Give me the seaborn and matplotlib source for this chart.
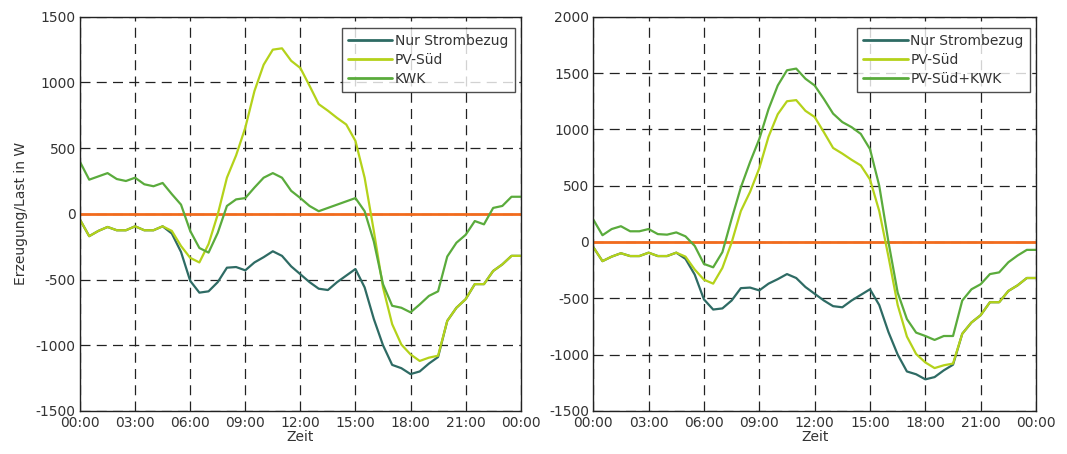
"""
Tageslastgang: Erzeugung/Last – Nur Strombezug vs. PV-Süd vs. KWK
"""

import numpy as np
import pandas as pd
import matplotlib
matplotlib.use("Agg")
import matplotlib.pyplot as plt
import seaborn as sns


# ---------------------------
# data (half-hour grid)
# ---------------------------
hours = [0.0, 0.5, 1.0, 1.5, 2.0, 2.5, 3.0, 3.5, 4.0, 4.5, 5.0, 5.5,
         6.0, 6.5, 7.0, 7.5, 8.0, 8.5, 9.0, 9.5, 10.0, 10.5, 11.0, 11.5,
         12.0, 12.5, 13.0, 13.5, 14.0, 14.5, 15.0, 15.5, 16.0, 16.5, 17.0, 17.5,
         18.0, 18.5, 19.0, 19.5, 20.0, 20.5, 21.0, 21.5, 22.0, 22.5, 23.0, 23.5,
         24.0]

nur_strombezug = [-45, -170, -130, -100, -125, -125, -95, -125, -125, -95, -150, -290,
                  -510, -600, -590, -520, -410, -405, -430, -370, -330, -285, -320, -400,
                  -460, -520, -570, -580, -520, -470, -420, -560, -800, -1000, -1150, -1175,
                  -1220, -1200, -1140, -1090, -815, -715, -650, -535, -535, -435, -385, -320,
                  -320]

pv_sued = [-45, -170, -130, -100, -125, -125, -95, -125, -125, -95, -130, -245,
           -335, -370, -230, -5, 275, 445, 655, 935, 1135, 1250, 1260, 1165,
           1110, 975, 835, 785, 730, 680, 555, 275, -130, -560, -840, -995,
           -1070, -1120, -1095, -1080, -815, -715, -650, -535, -535, -435, -385, -320,
           -320]

kwk = [395, 260, 285, 310, 265, 250, 275, 225, 210, 235, 150, 70,
       -130, -260, -295, -145, 60, 110, 120, 200, 275, 310, 275, 175,
       120, 60, 20, 45, 70, 95, 120, 20, -210, -535, -700, -715,
       -750, -690, -625, -590, -325, -220, -160, -55, -80, 45, 60, 130,
       130]

pv_sued_kwk = [200, 60, 115, 140, 95, 95, 115, 70, 65, 85, 50, -35,
               -195, -225, -90, 205, 485, 710, 915, 1180, 1390, 1525, 1540, 1450,
               1390, 1270, 1140, 1065, 1020, 960, 825, 500, 0, -450, -685, -805,
               -835, -870, -835, -835, -520, -420, -375, -285, -270, -180, -120, -70,
               -70]

tick_hours = [0, 3, 6, 9, 12, 15, 18, 21, 24]
tick_labels = ["00:00", "03:00", "06:00", "09:00", "12:00", "15:00", "18:00", "21:00", "00:00"]

COLORS = {
    "Nur Strombezug": "#2e6b64",
    "PV-Süd": "#b4d21a",
    "KWK": "#5aab3c",
    "PV-Süd+KWK": "#5aab3c",
}
TEXT = "#333333"


def long_frame(series):
    parts = []
    for name, values in series.items():
        parts.append(pd.DataFrame({"Zeit": hours, "Wert": values, "Serie": name}))
    return pd.concat(parts, ignore_index=True)


def draw_panel(ax, series, ylim, yticks):
    df = long_frame(series)
    sns.lineplot(data=df, x="Zeit", y="Wert", hue="Serie",
                 palette=COLORS, linewidth=1.6, ax=ax)
    ax.axhline(0, color="#f26b1d", linewidth=2, zorder=1)

    ax.set_xlim(0, 24)
    ax.set_ylim(*ylim)
    ax.set_xticks(tick_hours)
    ax.set_xticklabels(tick_labels)
    ax.set_yticks(yticks)
    ax.tick_params(length=0, labelsize=10, colors=TEXT)
    ax.tick_params(axis="x", pad=4)
    ax.tick_params(axis="y", pad=3)
    ax.grid(True, color="#222222", linestyle=(0, (8, 5)), linewidth=0.9)
    ax.set_axisbelow(True)
    for s in ax.spines.values():
        s.set_color("#222222")
        s.set_linewidth(1.0)
    ax.set_xlabel("Zeit", fontsize=10, color=TEXT, labelpad=0)

    # position of the box: 6 px from the right, 11 px from the top
    leg = ax.legend(loc="upper right", bbox_to_anchor=(1 - 6 / 441, 1 - 11 / 394),
                    borderaxespad=0, frameon=True, fancybox=False,
                    fontsize=10, handlelength=3.2, handletextpad=0.2,
                    labelspacing=0.35, borderpad=0.45)
    leg.get_frame().set_edgecolor("#222222")
    leg.get_frame().set_linewidth(1.0)
    for t in leg.get_texts():
        t.set_color(TEXT)
    for line in leg.get_lines():
        line.set_linewidth(2)


def main():
    sns.set_style("white")
    plt.rcParams["font.family"] = ["DejaVu Sans"]
    plt.rcParams["axes.unicode_minus"] = False

    fig = plt.figure(figsize=(10.67, 4.54), dpi=100)
    ax1 = fig.add_axes([0.075, 0.095, 0.413, 0.868])
    ax2 = fig.add_axes([0.556, 0.095, 0.415, 0.868])

    draw_panel(ax1,
               {"Nur Strombezug": nur_strombezug, "PV-Süd": pv_sued, "KWK": kwk},
               (-1500, 1500), range(-1500, 1501, 500))
    ax1.set_ylabel("Erzeugung/Last in W", fontsize=10, color=TEXT, labelpad=6)

    draw_panel(ax2,
               {"Nur Strombezug": nur_strombezug, "PV-Süd": pv_sued,
                "PV-Süd+KWK": pv_sued_kwk},
               (-1500, 2000), range(-1500, 2001, 500))
    ax2.set_ylabel("")

    fig.savefig("out.png", dpi=100)
    plt.close(fig)


if __name__ == "__main__":
    main()
